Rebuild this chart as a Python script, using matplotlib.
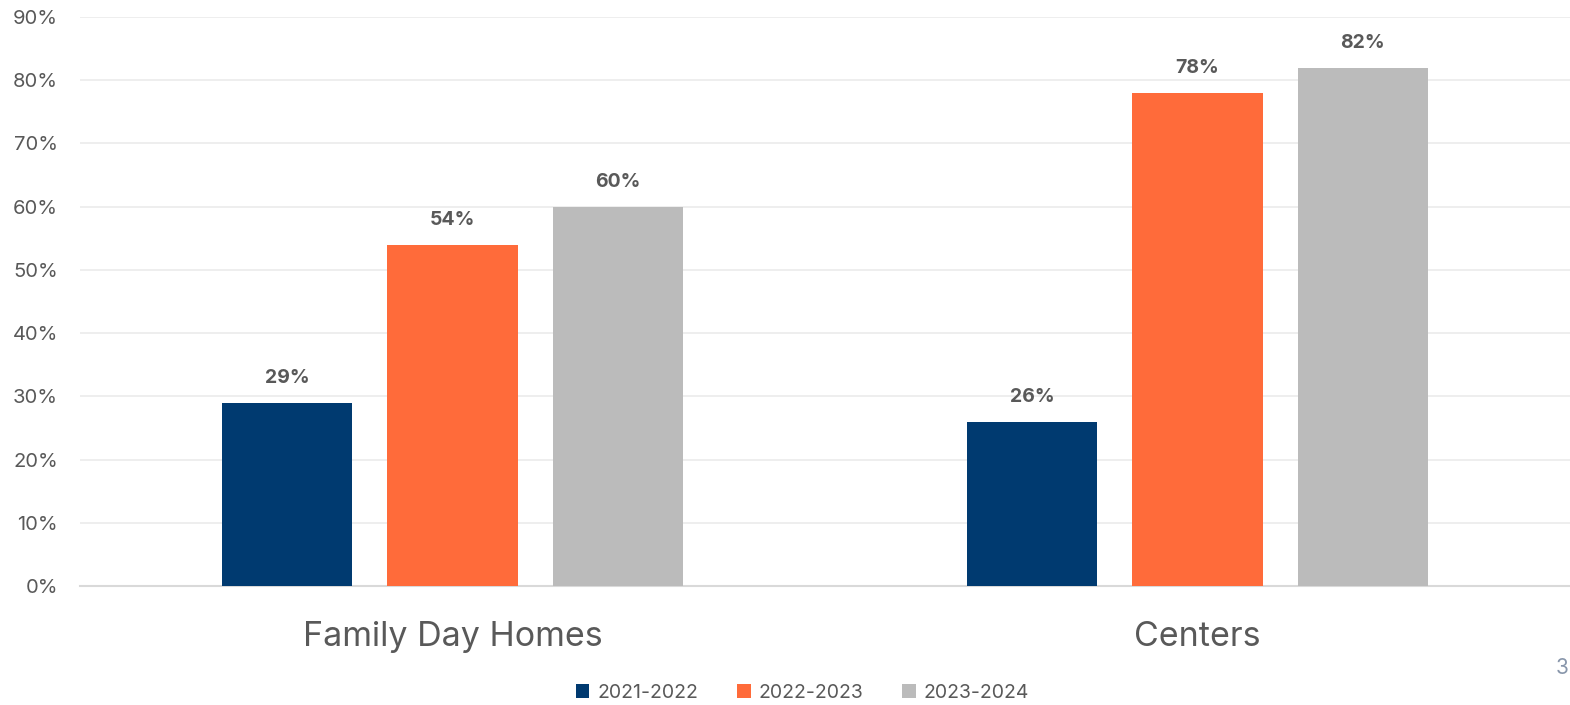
import matplotlib
matplotlib.use("Agg")
import matplotlib.pyplot as plt
import numpy as np

categories = ["Family Day Homes", "Centers"]
series_names = ["2021-2022", "2022-2023", "2023-2024"]
values_2021 = [29, 26]
values_2022 = [54, 78]
values_2023 = [60, 82]
colors = ["#003A70", "#FF6B3A", "#BBBBBB"]
yticks = [0, 10, 20, 30, 40, 50, 60, 70, 80, 90]

plt.rcParams['font.family'] = ['Inter', 'DejaVu Sans']

fig = plt.figure(figsize=(15.7, 7.05), dpi=100)
ax = fig.add_axes([80/1570, 1-586/705, 1-80/1570, (586-17)/705])

x = np.arange(len(categories))
width = 0.1745
step = 0.2215
series = [values_2021, values_2022, values_2023]
for i, (vals, name, c) in enumerate(zip(series, series_names, colors)):
    pos = x + (i - 1) * step
    bars = ax.bar(pos, vals, width, color=c, label=name, zorder=3)
    for b, v in zip(bars, vals):
        ax.text(b.get_x() + b.get_width()/2, v + 2.5, f"{v}%", ha='center', va='bottom',
                fontsize=14, fontweight='bold', color='#595959')

ax.set_xlim(-0.5, 1.5)
ax.set_ylim(0, 90)
ax.set_yticks(yticks)
ax.set_yticklabels([f"{t}%" for t in yticks], fontsize=14.5, color='#595959')
ax.set_xticks(x)
ax.set_xticklabels(categories, fontsize=24.5, color='#595959')
ax.tick_params(axis='both', length=0)
ax.tick_params(axis='x', pad=25)
ax.tick_params(axis='y', pad=16)
ax.grid(axis='y', color='#EBEBEB', linewidth=1.2, zorder=0)
for s in ['top', 'right', 'left']:
    ax.spines[s].set_visible(False)
ax.spines['bottom'].set_color('#D9D9D9')
ax.spines['bottom'].set_linewidth(1.5)

fig.legend(loc='center', bbox_to_anchor=(0.511, 1-693/705), ncol=3, frameon=False,
           fontsize=14, handlelength=0.7, handleheight=0.7, columnspacing=2.0,
           handletextpad=0.4, labelcolor='#595959')

fig.text(1556/1570, 1-668/705, "3", fontsize=15, color='#8896AB', ha='left', va='center')

fig.savefig("out.png", dpi=100)
